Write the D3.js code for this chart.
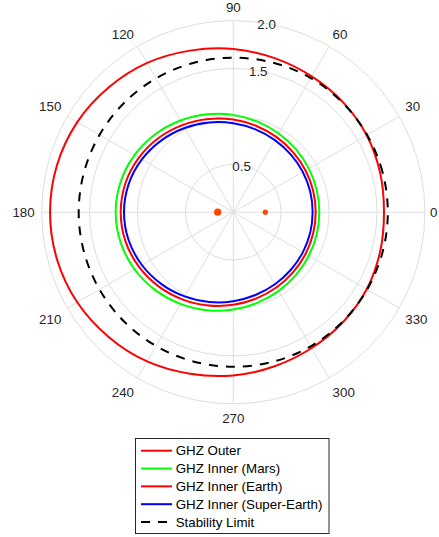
<!DOCTYPE html>
<html>
<head>
<meta charset="utf-8">
<script src="https://cdn.jsdelivr.net/npm/d3@7"></script>
<style>
  html, body { margin: 0; padding: 0; background: #fff; }
  svg { display: block; font-family: "Liberation Sans", Arial, Helvetica, sans-serif; }
</style>
</head>
<body>
<svg id="chart" width="439" height="537"></svg>
<script>
// ---- data ----
const thetaDeg = [0, 15, 30, 45, 60, 75, 90, 105, 120, 135, 150, 165,
                  180, 195, 210, 225, 240, 255, 270, 285, 300, 315, 330, 345];
const ghzOuter      = [1.573, 1.587, 1.608, 1.621, 1.637, 1.665, 1.704, 1.746, 1.799, 1.841, 1.881, 1.905,
                       1.913, 1.905, 1.881, 1.841, 1.799, 1.746, 1.704, 1.665, 1.637, 1.621, 1.608, 1.587];
const ghzInnerMars  = [0.898, 0.901, 0.910, 0.926, 0.948, 0.978, 1.016, 1.059, 1.105, 1.151, 1.191, 1.218,
                       1.228, 1.218, 1.191, 1.151, 1.105, 1.059, 1.016, 0.978, 0.948, 0.926, 0.910, 0.901];
const ghzInnerEarth = [0.860, 0.863, 0.871, 0.884, 0.905, 0.932, 0.967, 1.008, 1.053, 1.099, 1.138, 1.166,
                       1.175, 1.166, 1.138, 1.099, 1.053, 1.008, 0.967, 0.932, 0.905, 0.884, 0.871, 0.863];
const ghzInnerSuper = [0.828, 0.831, 0.838, 0.850, 0.869, 0.895, 0.929, 0.970, 1.015, 1.061, 1.102, 1.131,
                       1.141, 1.131, 1.102, 1.061, 1.015, 0.970, 0.929, 0.895, 0.869, 0.850, 0.838, 0.831];
const stabilityLimit = [1.613, 1.613, 1.613, 1.615, 1.617, 1.615, 1.613, 1.613, 1.613, 1.613, 1.613, 1.613,
                        1.614, 1.613, 1.613, 1.613, 1.613, 1.613, 1.613, 1.615, 1.617, 1.615, 1.613, 1.613];
const starRadius = [0.163, 0.334];
const starAngle  = [180, 0];
const angleTicks  = [0, 30, 60, 90, 120, 150, 180, 210, 240, 270, 300, 330];
const radialRings = [0.5, 1.0, 1.5, 2.0];
const radialLabels = ["0.5", "", "1.5", "2.0"];
const seriesNames = ["GHZ Outer", "GHZ Inner (Mars)", "GHZ Inner (Earth)", "GHZ Inner (Super-Earth)", "Stability Limit"];

// ---- layout ----
const cx = 233.3, cy = 212.2, R = 191.6;
const svg = d3.select("#chart");
const g = svg.append("g").attr("transform", `translate(${cx},${cy})`);
const r = d3.scaleLinear().domain([0, 2]).range([0, R]);
const toRad = d => d * Math.PI / 180;
const gridColor = "#dedede", textColor = "#262626";

// grid rings
g.selectAll("circle.ring").data(radialRings).join("circle")
  .attr("class", "ring").attr("r", d => r(d))
  .attr("fill", "none").attr("stroke", gridColor).attr("stroke-width", 1);
// spokes
g.selectAll("line.spoke").data(angleTicks).join("line")
  .attr("x1", 0).attr("y1", 0)
  .attr("x2", d => r(2) * Math.cos(toRad(d)))
  .attr("y2", d => -r(2) * Math.sin(toRad(d)))
  .attr("stroke", gridColor).attr("stroke-width", 1);

// curves
const radial = d3.lineRadial()
  .angle((d, i) => Math.PI / 2 - toRad(thetaDeg[i]))
  .radius(d => r(d))
  .curve(d3.curveCatmullRomClosed.alpha(0.5));

const series = [
  { name: seriesNames[0], values: ghzOuter, color: "#ff0000", dash: null },
  { name: seriesNames[1], values: ghzInnerMars, color: "#00ff00", dash: null },
  { name: seriesNames[2], values: ghzInnerEarth, color: "#ff0000", dash: null },
  { name: seriesNames[3], values: ghzInnerSuper, color: "#0000ff", dash: null },
  { name: seriesNames[4], values: stabilityLimit, color: "#000000", dash: "9,8" }
];

g.selectAll("path.series").data(series).join("path")
  .attr("class", "series")
  .attr("d", d => radial(d.values))
  .attr("fill", "none")
  .attr("stroke", d => d.color)
  .attr("stroke-width", 2)
  .attr("stroke-dasharray", d => d.dash);

// stars
const starSize = [3.6, 2.6];
g.selectAll("circle.star").data(starRadius).join("circle")
  .attr("cx", (d, i) => r(d) * Math.cos(toRad(starAngle[i])))
  .attr("cy", (d, i) => -r(d) * Math.sin(toRad(starAngle[i])))
  .attr("r", (d, i) => starSize[i])
  .attr("fill", "#ff4500");

// angle labels
const fs = 13.33, cap = 9.5;
g.selectAll("text.ang").data(angleTicks).join("text")
  .attr("class", "ang")
  .attr("font-size", fs)
  .attr("fill", textColor)
  .text(d => d)
  .each(function(d) {
    const c = Math.cos(toRad(d)), s = Math.sin(toRad(d));
    const pr = R + 7;
    let x = pr * c, y = -pr * s;
    const anchor = c > 0.01 ? "start" : (c < -0.01 ? "end" : "middle");
    if (s > 0.01) y = y - 1.5;
    else if (s < -0.01) y = y + cap + 3;
    else y = y + cap / 2;
    if (c > 0.01 && Math.abs(s) < 0.01) x -= 2;
    d3.select(this).attr("x", x).attr("y", y).attr("text-anchor", anchor);
  });

// radial labels at 80 degrees
g.selectAll("text.rad").data(radialRings).join("text")
  .attr("class", "rad")
  .attr("font-size", fs)
  .attr("fill", textColor)
  .attr("text-anchor", "middle")
  .attr("x", d => r(d) * Math.cos(toRad(80)))
  .attr("y", d => -r(d) * Math.sin(toRad(80)) + cap / 2 + 1)
  .text((d, i) => radialLabels[i]);

// legend
const lg = svg.append("g").attr("transform", "translate(135.5,438.5)");
lg.append("rect").attr("width", 193.5).attr("height", 95)
  .attr("fill", "#fff").attr("stroke", "#262626").attr("stroke-width", 1);
const rowY = d3.scaleLinear().domain([0, 4]).range([12.2, 83.5]);
const items = lg.selectAll("g.item").data(series).join("g")
  .attr("class", "item")
  .attr("transform", (d, i) => `translate(0,${rowY(i)})`);
items.append("line")
  .attr("x1", 5.5).attr("x2", 36.5).attr("y1", 0).attr("y2", 0)
  .attr("stroke", d => d.color).attr("stroke-width", 2)
  .attr("stroke-dasharray", d => d.dash);
items.append("text")
  .attr("x", 40.2).attr("y", 4.7)
  .attr("font-size", fs).attr("fill", "#000")
  .text(d => d.name);
</script>
</body>
</html>
